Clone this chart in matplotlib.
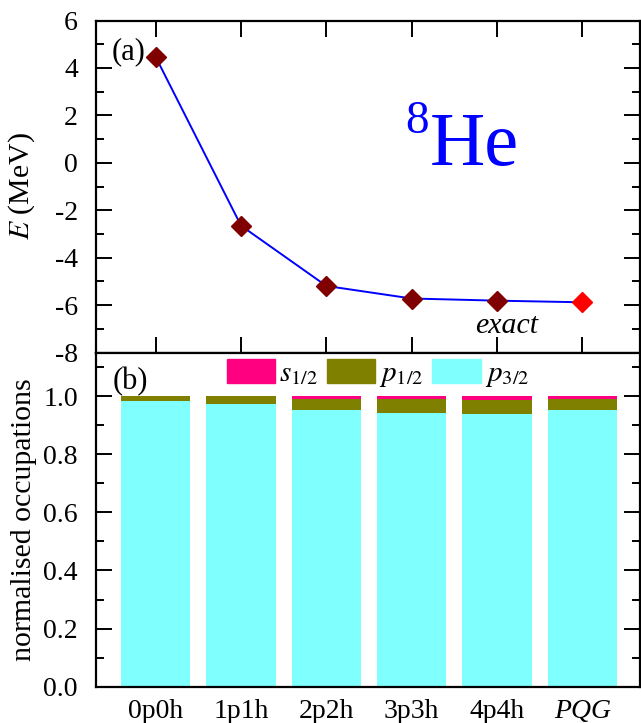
import matplotlib
matplotlib.use('Agg')
import matplotlib.pyplot as plt
from matplotlib.patches import Patch
from matplotlib.ticker import MultipleLocator

plt.rcParams['font.family'] = ['Liberation Serif', 'DejaVu Serif']
plt.rcParams['mathtext.fontset'] = 'stix'
plt.rcParams['axes.unicode_minus'] = False

# truncation levels
labels = ['0p0h', '1p1h', '2p2h', '3p3h', '4p4h', 'PQG']
xpos = [1, 2, 3, 4, 5, 6]

# ground state energy (MeV)
energy = [4.46, -2.65, -5.19, -5.72, -5.81, -5.88]

# normalised occupations
occ_p32 = [0.984, 0.972, 0.951, 0.943, 0.939, 0.951]
occ_p12 = [0.016, 0.028, 0.041, 0.047, 0.049, 0.039]
occ_s12 = [0.000, 0.000, 0.008, 0.010, 0.012, 0.010]

W, H = 641, 723
fig = plt.figure(figsize=(W / 100, H / 100), dpi=100)
left, right = 96, 639.5
top1, mid, bot2 = 20.5, 352.6, 686.7
ax1 = fig.add_axes([left / W, 1 - mid / H, (right - left) / W, (mid - top1) / H])
ax2 = fig.add_axes([left / W, 1 - bot2 / H, (right - left) / W, (bot2 - mid) / H])

for ax in (ax1, ax2):
    for sp in ax.spines.values():
        sp.set_linewidth(1.6)
    ax.set_xlim(0.3, 6.67)

# --- (a) energies
ax1.plot(xpos, energy, color='#0000ff', lw=1.4, zorder=2)
ax1.plot(xpos[:5], energy[:5], ls='none', marker='D', ms=10, color='#800000', zorder=3)
ax1.plot(xpos[5:], energy[5:], ls='none', marker='D', ms=10, color='#ff0000', zorder=3)
ax1.set_ylim(-8, 6)
ax1.yaxis.set_major_locator(MultipleLocator(2))
ax1.yaxis.set_minor_locator(MultipleLocator(1))
ax1.set_xticks(xpos)
ax1.tick_params(axis='x', which='both', direction='in', top=True, bottom=True,
                labelbottom=False, length=11.5, width=1.4)
ax1.tick_params(axis='y', which='major', direction='in', left=True, right=True,
                length=11.5, width=1.4, labelsize=20, pad=13)
ax1.tick_params(axis='y', which='minor', direction='in', left=True, right=True,
                length=5.8, width=1.4)
ax1.set_ylabel(r'$E$ (MeV)', fontsize=21.5)
ax1.yaxis.set_label_coords(-0.108, 0.5)

ax1.text(0.029, 0.905, '(a)', transform=ax1.transAxes, fontsize=22, ha='left', va='center')
ax1.text(0.5685, (mid - 133) / (mid - top1), '8', transform=ax1.transAxes,
         fontsize=34, color='#0000ff', ha='left', va='baseline')
ax1.text((430 - left) / (right - left), (mid - 165) / (mid - top1), 'He', transform=ax1.transAxes,
         fontsize=55, color='#0000ff', ha='left', va='baseline')
ax1.text(5.107, -7.18, 'exact', fontsize=21.5, style='italic', ha='center', va='baseline')

# --- (b) occupations
bw = 0.81
c_p32, c_p12, c_s12 = '#80ffff', '#808000', '#ff0080'
ax2.bar(xpos, occ_p32, width=bw, color=c_p32, label=r'$p_{3/2}$')
base = [a for a in occ_p32]
ax2.bar(xpos, occ_p12, width=bw, bottom=base, color=c_p12, label=r'$p_{1/2}$')
base = [a + b for a, b in zip(occ_p32, occ_p12)]
ax2.bar(xpos, occ_s12, width=bw, bottom=base, color=c_s12, label=r'$s_{1/2}$')

ax2.set_ylim(0, 1.15)
ax2.yaxis.set_major_locator(MultipleLocator(0.2))
ax2.yaxis.set_minor_locator(MultipleLocator(0.1))
ax2.yaxis.set_major_formatter(matplotlib.ticker.FormatStrFormatter('%.1f'))
ax2.set_xticks(xpos)
ax2.set_xticklabels(labels)
ax2.get_xticklabels()[5].set_style('italic')
ax2.tick_params(axis='x', which='both', length=0, labelsize=20, pad=9)
ax2.tick_params(axis='y', which='major', direction='in', left=True, right=True,
                length=11.5, width=1.4, labelsize=20, pad=13)
ax2.tick_params(axis='y', which='minor', direction='in', left=True, right=True,
                length=5.8, width=1.4)
ax2.set_ylabel('normalised occupations', fontsize=21.5)
ax2.yaxis.set_label_coords(-0.108, 0.5)
ax2.text(0.031, 0.913, '(b)', transform=ax2.transAxes, fontsize=22, ha='left', va='center')

handles = [Patch(color=c_s12, label=r'$s_{1/2}$'),
           Patch(color=c_p12, label=r'$p_{1/2}$'),
           Patch(color=c_p32, label=r'$p_{3/2}$')]
ax2.legend(handles=handles, ncol=3, frameon=False, loc='upper left',
           bbox_to_anchor=((226.7 - left) / (right - left), (bot2 - 358.5) / (bot2 - mid)),
           borderpad=0, borderaxespad=0, fontsize=21, handlelength=1.65, handleheight=0.9,
           handletextpad=0.15, columnspacing=0.3)

fig.savefig('out.png', dpi=100)
